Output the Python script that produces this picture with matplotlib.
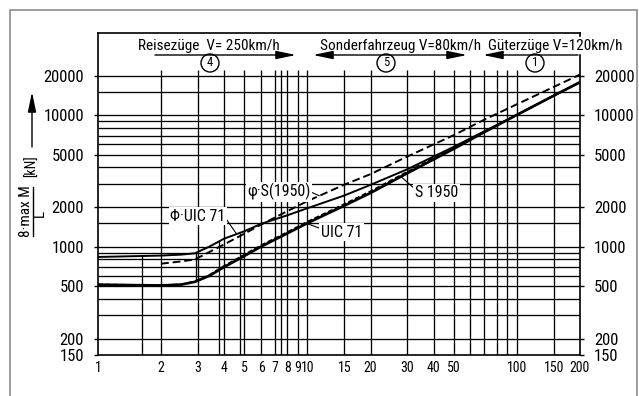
import numpy as np
import matplotlib
matplotlib.use("Agg")
import matplotlib.pyplot as plt
from matplotlib import font_manager as fm
from matplotlib.patches import Rectangle, FancyArrowPatch
from matplotlib.lines import Line2D
from matplotlib.ticker import NullLocator

# ---------------------------------------------------------------------------
# Data: equivalent load 8*max M / L [kN] versus span length L [m]
# ---------------------------------------------------------------------------
uic71_L = [1, 2, 2.5, 2.9, 3.4, 4, 5, 6, 8, 10, 15, 20, 30, 50, 70, 100, 150, 200]
uic71_q = [514, 507, 515, 540, 600, 700, 850, 1000, 1260, 1510, 2050, 2560,
           3620, 5550, 7430, 10050, 14080, 17800]

s1950_L = [1, 2, 2.5, 2.9, 3.4, 4, 5, 6, 8, 10, 15, 20, 30, 50, 70, 100, 150, 200]
s1950_q = [516, 509, 518, 545, 610, 715, 870, 1025, 1290, 1550, 2110, 2640,
           3720, 5650, 7500, 10050, 14080, 17800]

phi_uic71_L = [1, 2, 2.5, 2.9, 3.4, 4, 5, 6, 8, 10, 15, 20, 30, 50, 70, 100, 150, 200]
phi_uic71_q = [835, 855, 870, 890, 1000, 1150, 1310, 1490, 1730, 1960, 2450,
               2950, 3880, 5750, 7550, 10050, 14080, 17800]

phi_s1950_L = [2, 2.5, 2.9, 3.4, 4, 5, 6, 8, 10, 15, 20, 30, 50, 70, 100, 150, 200]
phi_s1950_q = [742, 772, 800, 910, 1040, 1255, 1470, 1860, 2220, 2960, 3560,
               4850, 7050, 9250, 12100, 16400, 20350]

x_ticks = [1, 2, 3, 4, 5, 6, 7, 8, 9, 10, 15, 20, 30, 40, 50, 100, 150, 200]
x_tick_labels = ["1", "2", "3", "4", "5", "6", "7", "8", "9", "10", "15", "20",
                 "30", "40", "50", "100", "150", "200"]
y_ticks = [150, 200, 500, 1000, 2000, 5000, 10000, 20000]
y_tick_labels = ["150", "200", "500", "1000", "2000", "5000", "10000", "20000"]

grid_x = [2, 3, 4, 5, 6, 7, 7.5, 8, 9, 10, 15, 20, 30, 40, 50, 60, 70, 80, 90,
          100, 150]
grid_y = [200, 300, 400, 500, 600, 700, 800, 900, 1000, 1500, 2000, 3000, 4000,
          5000, 6000, 7000, 8000, 9000, 10000, 15000, 20000]

# spans where extra verticals run from the base up to the Phi*UIC 71 curve
drop_lines_L = [1.63, 3.78, 4.76]
# span where a vertical joins the UIC 71 and Phi*UIC 71 curves
joint_L = 2.93


# ---------------------------------------------------------------------------
# Font: prefer a narrow sans face
# ---------------------------------------------------------------------------
def pick_font():
    names = {f.name for f in fm.fontManager.ttflist}
    for fam in ["Liberation Sans Narrow", "DejaVu Sans Condensed",
                "Roboto Condensed", "Noto Sans Condensed",
                "Open Sans Condensed"]:
        if fam in names:
            return fam, "normal", True
    for f in fm.fontManager.ttflist:
        if str(f.stretch) in ("condensed", "semi-condensed") and f.style == "normal":
            return f.name, str(f.stretch), True
    return "DejaVu Sans", "normal", False


FAMILY, STRETCH, NARROW = pick_font()
plt.rcParams["font.family"] = [FAMILY, "DejaVu Sans"]
plt.rcParams["font.stretch"] = STRETCH
FS_Y = 12 if NARROW else 9.5
FS_X = 10 if NARROW else 8
FS_TOP = 11 if NARROW else 8.5
FS_LBL = 11.5 if NARROW else 9

W, H = 639, 396


def fx(px):
    return px / W


def fy(py):
    return 1 - py / H


fig = plt.figure(figsize=(W / 100, H / 100), dpi=100)
fig.patch.set_facecolor("white")

ax = fig.add_axes([fx(98), fy(355), fx(580) - fx(98), fy(32.5) - fy(355)])
ax.set_xscale("log")
ax.set_yscale("log")
ax.set_xlim(1, 200)
ax.set_ylim(150, 42500)


def on_curve(Ls, qs, L):
    return 10 ** np.interp(np.log10(L), np.log10(Ls), np.log10(qs))


# grid
ax.vlines(grid_x, 150, 22000, colors="k", lw=0.95, zorder=1)
ax.hlines(grid_y, 1, 200, colors="k", lw=0.95, zorder=1)
for L in drop_lines_L:
    ax.vlines(L, 150, on_curve(phi_uic71_L, phi_uic71_q, L), colors="k",
              lw=0.95, zorder=1)
ax.vlines(joint_L, on_curve(uic71_L, uic71_q, joint_L),
          on_curve(phi_uic71_L, phi_uic71_q, joint_L), colors="k", lw=0.95,
          zorder=2)

# curves
ax.plot(uic71_L, uic71_q, color="k", lw=1.9, zorder=3)
ax.plot(s1950_L, s1950_q, color="k", lw=1.2, ls=(0, (3, 1.5)), zorder=3)
ax.plot(phi_uic71_L, phi_uic71_q, color="k", lw=1.4, zorder=3)
ax.plot(phi_s1950_L, phi_s1950_q, color="k", lw=1.4, ls=(0, (4, 2)), zorder=3)

# curve labels
box = dict(boxstyle="square,pad=0.1", fc="white", ec="none")
lead = dict(arrowstyle="-", lw=0.8, color="k", shrinkA=0, shrinkB=0)


def label(text, L, Ls, qs, tx, ty, relpos):
    arrow = dict(lead, relpos=relpos)
    ax.annotate(text, xy=(L, on_curve(Ls, qs, L)), xytext=(tx, ty),
                ha="left", va="center", fontsize=FS_LBL, bbox=box,
                arrowprops=arrow, zorder=5)


label("φ·S(1950)", 11.4, phi_s1950_L, phi_s1950_q, 5.15, 2610, (1, 0.5))
label("Φ·UIC 71", 4.59, phi_uic71_L, phi_uic71_q, 2.21, 1700, (1, 0.4))
label("S 1950", 27.6, s1950_L, s1950_q, 32.6, 2570, (0, 0.75))
label("UIC 71", 9.92, uic71_L, uic71_q, 11.56, 1285, (0, 0.75))

# axes frame
for s in ("left", "bottom", "top"):
    ax.spines[s].set_linewidth(1.2)
ax.spines["right"].set_visible(False)
ax.plot([1, 1], [0, (355 - 55) / 322.5], color="k", lw=1.2,
        transform=ax.transAxes, clip_on=False)
ax.plot([1, 1], [(355 - 36) / 322.5, 1], color="k", lw=1.2,
        transform=ax.transAxes, clip_on=False)

# ticks
ax.xaxis.set_minor_locator(NullLocator())
ax.yaxis.set_minor_locator(NullLocator())
ax.set_xticks(x_ticks)
ax.set_xticklabels(x_tick_labels, fontsize=FS_X)
ax.set_yticks(y_ticks)
ax.set_yticklabels(y_tick_labels, fontsize=FS_Y)
ax.tick_params(axis="x", length=0, pad=4)
ax.tick_params(axis="y", direction="out", length=3, width=1, left=True,
               right=True, labelleft=True, labelright=True, pad=7)


# traffic categories along the top
def farrow(x0, x1, y0, y1, style):
    fig.add_artist(FancyArrowPatch((fx(x0), fy(y0)), (fx(x1), fy(y1)),
                                   transform=fig.transFigure,
                                   arrowstyle=style, mutation_scale=10,
                                   lw=1.0, color="k", shrinkA=0, shrinkB=0))


HEAD = "head_length=1.2,head_width=0.25"
fig.text(fx(138), fy(46), "Reisezüge  V= 250km/h", fontsize=FS_TOP,
         ha="left", va="center")
fig.text(fx(320), fy(46), "Sonderfahrzeug V=80km/h", fontsize=FS_TOP,
         ha="left", va="center")
fig.text(fx(488), fy(46), "Güterzüge V=120km/h", fontsize=FS_TOP, ha="left",
         va="center")
farrow(155, 296, 55, 55, "-|>," + HEAD)
farrow(313, 467, 55, 55, "<|-|>," + HEAD)
farrow(578, 483, 55, 55, "-|>," + HEAD)

circ = dict(boxstyle="circle,pad=0.2", fc="none", ec="k", lw=1.0)
for xp, num in ((210, "4"), (386, "5"), (535, "1")):
    fig.text(fx(xp), fy(63), num, fontsize=9, ha="center", va="center",
             bbox=circ)

# y-axis caption
farrow(32, 32, 147, 92, "-|>," + HEAD)
fig.text(fx(32), fy(166), "[kN]", fontsize=FS_Y - 2, rotation=90, ha="center",
         va="center")
fig.text(fx(25.5), fy(211), "8·max M", fontsize=FS_Y - 1, rotation=90,
         ha="center", va="center")
fig.add_artist(Line2D([fx(33), fx(33)], [fy(187), fy(236)], color="k", lw=1.0,
                      transform=fig.transFigure))
fig.text(fx(40), fy(213), "L", fontsize=FS_Y - 1, rotation=90, ha="center",
         va="center")

# page border
fig.add_artist(Rectangle((fx(10), fy(420)), fx(637) - fx(10), fy(10) - fy(420),
                         transform=fig.transFigure, fill=False, ec="#8c8c8c",
                         lw=1.2))

fig.savefig("out.png", dpi=100)
